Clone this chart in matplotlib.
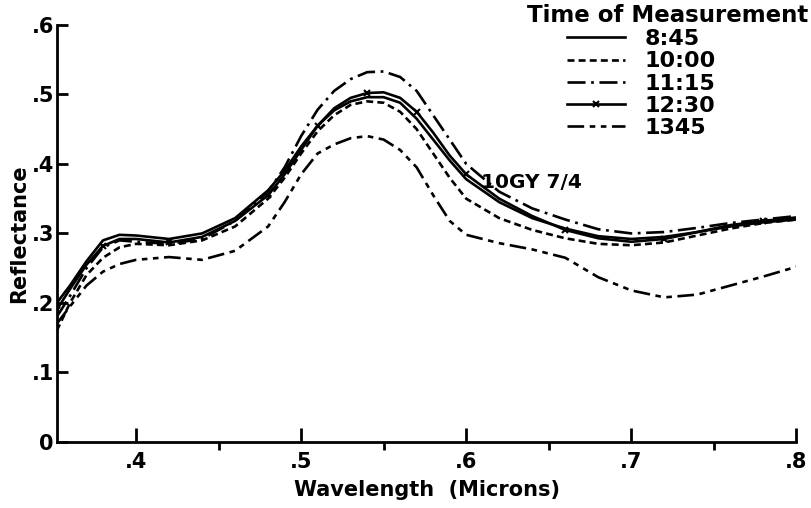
import matplotlib
matplotlib.use('Agg')
from matplotlib import pyplot as plt

font = {'family' : 'DejaVu Sans',
        'weight' : 'bold',
        'size'   : 15}
matplotlib.rc('font', **font)
matplotlib.rcParams['lines.scale_dashes'] = False

# wavelength in microns, reflectance
wavelength = [0.352, 0.36, 0.37, 0.38, 0.39, 0.40, 0.42, 0.44, 0.46, 0.48,
              0.49, 0.50, 0.51, 0.52, 0.53, 0.54, 0.55, 0.56, 0.57, 0.58,
              0.59, 0.60, 0.62, 0.64, 0.66, 0.68, 0.70, 0.72, 0.74, 0.76,
              0.78, 0.80]

r_0845 = [0.20, 0.225, 0.26, 0.29, 0.298, 0.297, 0.292, 0.30, 0.322, 0.362,
          0.39, 0.425, 0.455, 0.477, 0.49, 0.496, 0.496, 0.488, 0.465, 0.435,
          0.405, 0.378, 0.345, 0.322, 0.307, 0.296, 0.292, 0.295, 0.302, 0.31,
          0.316, 0.32]
r_1000 = [0.16, 0.20, 0.24, 0.265, 0.28, 0.285, 0.283, 0.29, 0.31, 0.35,
          0.38, 0.415, 0.447, 0.47, 0.485, 0.49, 0.488, 0.475, 0.45, 0.415,
          0.38, 0.35, 0.322, 0.305, 0.293, 0.285, 0.283, 0.287, 0.297, 0.307,
          0.315, 0.32]
r_1115 = [0.18, 0.21, 0.25, 0.28, 0.29, 0.288, 0.285, 0.292, 0.318, 0.36,
          0.395, 0.44, 0.478, 0.505, 0.522, 0.532, 0.533, 0.525, 0.505, 0.47,
          0.435, 0.40, 0.36, 0.336, 0.32, 0.306, 0.30, 0.302, 0.308, 0.315,
          0.32, 0.325]
r_1230 = [0.19, 0.22, 0.255, 0.282, 0.292, 0.292, 0.287, 0.295, 0.318, 0.355,
          0.385, 0.42, 0.455, 0.48, 0.495, 0.502, 0.503, 0.495, 0.475, 0.445,
          0.412, 0.385, 0.35, 0.325, 0.305, 0.293, 0.288, 0.292, 0.302, 0.312,
          0.318, 0.323]
r_1345 = [0.17, 0.195, 0.225, 0.245, 0.256, 0.262, 0.266, 0.262, 0.275, 0.31,
          0.345, 0.385, 0.415, 0.428, 0.437, 0.44, 0.435, 0.42, 0.395, 0.355,
          0.318, 0.298, 0.286, 0.277, 0.265, 0.237, 0.218, 0.208, 0.212, 0.225,
          0.238, 0.252]

time_labels = ["8:45", "10:00", "11:15", "12:30", "1345"]

x_ticks = [0.4, 0.5, 0.6, 0.7, 0.8]
x_tick_labels = [".4", ".5", ".6", ".7", ".8"]
x_minor = [0.45, 0.55, 0.65, 0.75]
y_ticks = [0, 0.1, 0.2, 0.3, 0.4, 0.5, 0.6]
y_tick_labels = ["0", ".1", ".2", ".3", ".4", ".5", ".6"]

fig = plt.figure(figsize=(8.11, 5.08), dpi=100)
ax = fig.add_axes([0.070, 0.130, 0.912, 0.821])

ax.plot(wavelength, r_0845, color='black', lw=1.9, ls='-', label=time_labels[0])
ax.plot(wavelength, r_1000, color='black', lw=1.9, ls=(0, (5, 3)), label=time_labels[1])
ax.plot(wavelength, r_1115, color='black', lw=1.9, ls=(0, (13, 4, 2, 4)), label=time_labels[2])
ax.plot(wavelength, r_1230, color='black', lw=1.9, ls='-', marker='x', ms=5, mew=1.5,
        markevery=3, label=time_labels[3])
ax.plot(wavelength, r_1345, color='black', lw=1.9, ls=(0, (12, 4, 4, 4, 4, 4)), label=time_labels[4])

ax.set_xlim(0.352, 0.8)
ax.set_ylim(0, 0.6)
ax.spines['top'].set_visible(False)
ax.spines['right'].set_visible(False)
ax.spines['left'].set_linewidth(2)
ax.spines['bottom'].set_linewidth(2)

ax.set_xticks(x_ticks)
ax.set_xticklabels(x_tick_labels)
ax.set_xticks(x_minor, minor=True)
ax.set_yticks(y_ticks)
ax.set_yticklabels(y_tick_labels)
ax.tick_params(axis='both', direction='in', width=2, labelsize=15)
ax.tick_params(axis='x', which='major', length=10, pad=7)
ax.tick_params(axis='x', which='minor', length=6, width=2)
ax.tick_params(axis='y', length=8, pad=2)

ax.set_xlabel('Wavelength  (Microns)', fontsize=15, fontweight='bold', labelpad=6)
ax.set_ylabel('Reflectance', fontsize=15, fontweight='bold', labelpad=2)

ax.text(0.609, 0.373, '10GY 7/4', fontsize=14.5, ha='left', va='center')

# legend title written separately so the entries sit left of its centre
fig.text(0.997, 0.970, 'Time of Measurement', fontsize=16.5, fontweight='bold',
         ha='right', va='center')
leg = ax.legend(loc='upper left', bbox_to_anchor=(0.69, 0.99), frameon=False,
                fontsize=16, handlelength=2.6, handletextpad=0.9, labelspacing=0.1,
                borderaxespad=0, borderpad=0)

fig.savefig('out.png', dpi=100)
